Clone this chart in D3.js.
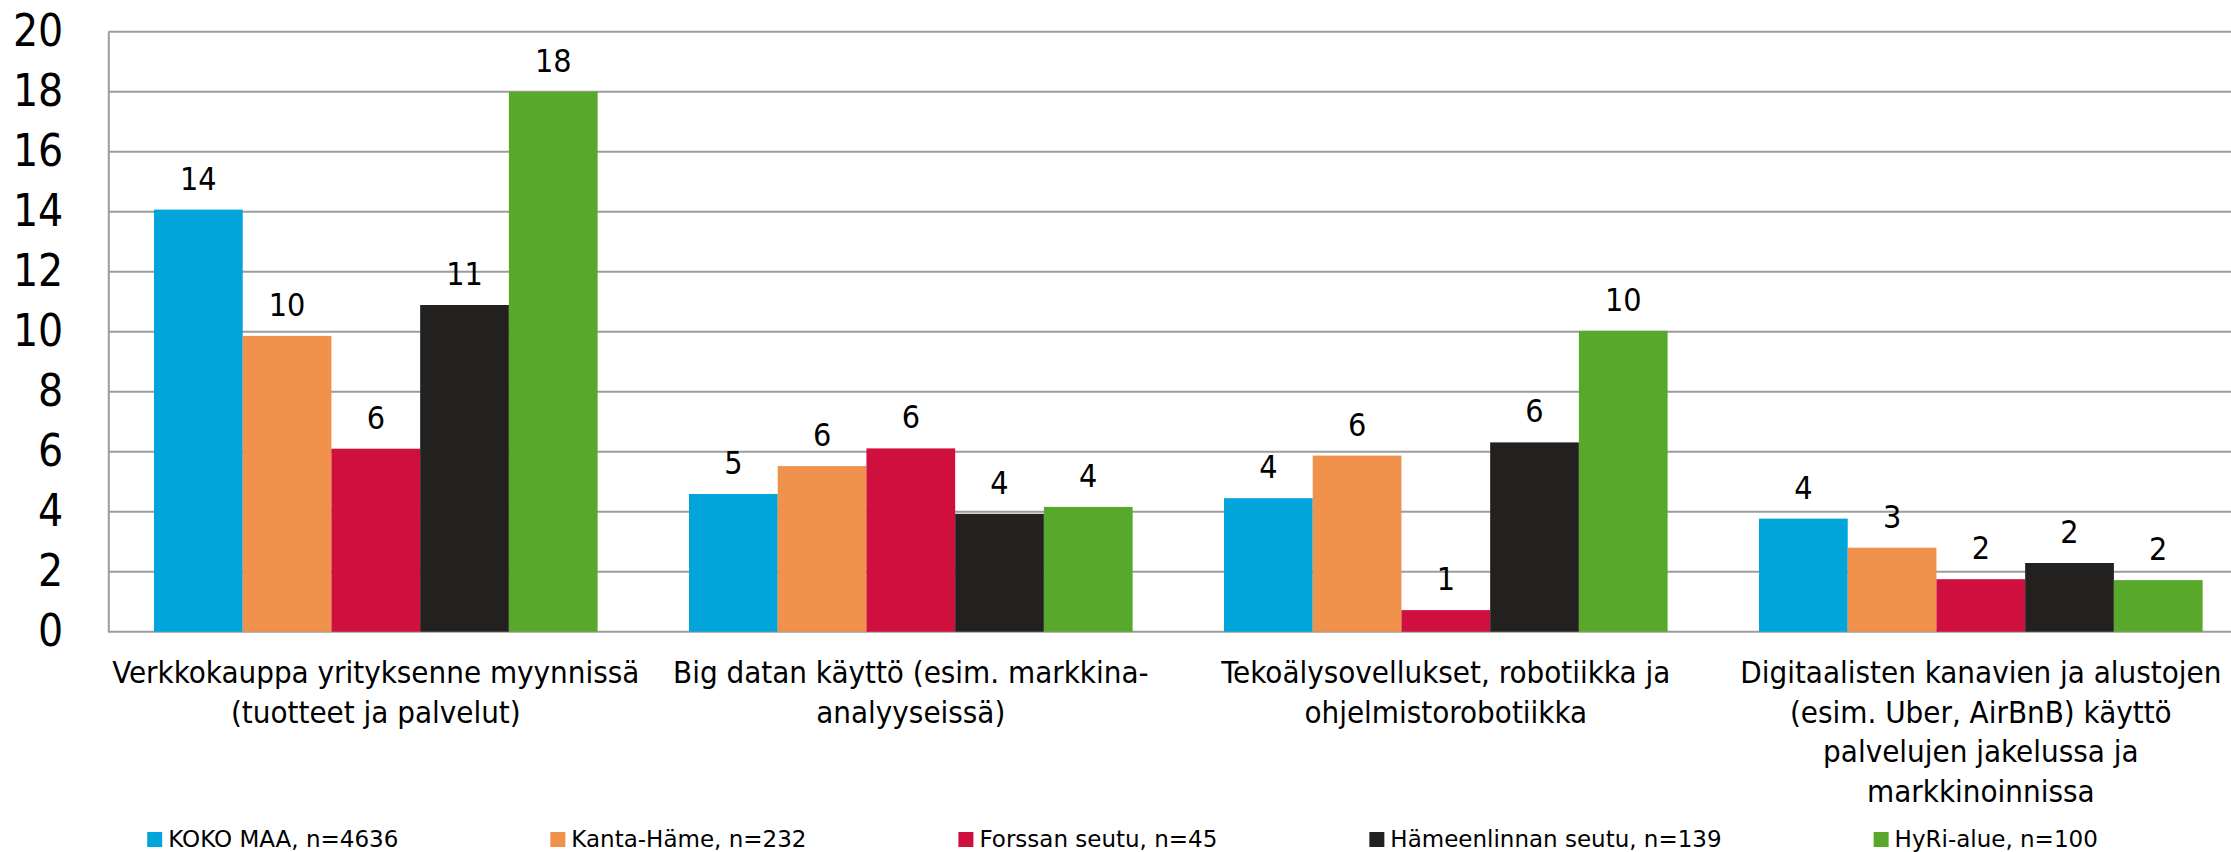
<!DOCTYPE html>
<html>
<head>
<meta charset="utf-8">
<script src="https://cdn.jsdelivr.net/npm/d3@7"></script>
<style>
  html, body { margin: 0; padding: 0; background: #fff; }
  svg { display: block; font-family: 'DejaVu Sans Condensed', 'DejaVu Sans', sans-serif; }
</style>
</head>
<body>
<svg id="chart"></svg>
<script>
const categories = [
  ['Verkkokauppa yrityksenne myynnissä', '(tuotteet ja palvelut)'],
  ['Big datan käyttö (esim. markkina-', 'analyyseissä)'],
  ['Tekoälysovellukset, robotiikka ja', 'ohjelmistorobotiikka'],
  ['Digitaalisten kanavien ja alustojen', '(esim. Uber, AirBnB) käyttö', 'palvelujen jakelussa ja', 'markkinoinnissa']
]
const series = ['KOKO MAA, n=4636', 'Kanta-Häme, n=232', 'Forssan seutu, n=45', 'Hämeenlinnan seutu, n=139', 'HyRi-alue, n=100']
const colors = ['#02a5da', '#f0914c', '#cf0f3d', '#22211f', '#58a82c']

const kokoMaa = [14.07, 4.59, 4.45, 3.77]
const kantaHame = [9.86, 5.52, 5.87, 2.80]
const forssa = [6.10, 6.11, 0.72, 1.75]
const hameenlinna = [10.89, 3.93, 6.31, 2.29]
const hyri = [18.0, 4.16, 10.03, 1.72]
const values = [kokoMaa, kantaHame, forssa, hameenlinna, hyri]

const yTicks = [0, 2, 4, 6, 8, 10, 12, 14, 16, 18, 20]

let w = 2231, h = 852
let mLeft = 108.3, mTop = 31.7, plotH = 600, band = 535

let svg = d3.select('#chart').attr('width', w).attr('height', h)

let x0 = d3.scaleBand()
  .domain(d3.range(categories.length))
  .range([mLeft, mLeft + band * categories.length])
  .padding(0)

// excel gap width 103%
let gap = band * 1.03 / 6.03
let x1 = d3.scaleBand()
  .domain(d3.range(series.length))
  .range([gap / 2, band - gap / 2])
  .padding(0)

let y = d3.scaleLinear().domain([0, 20]).range([mTop + plotH, mTop])

// gridlines
svg.append('g')
  .selectAll('line')
  .data(yTicks)
  .enter().append('line')
  .attr('x1', mLeft).attr('x2', w)
  .attr('y1', d => y(d)).attr('y2', d => y(d))
  .attr('stroke', '#9c9c9c')
  .attr('stroke-width', 2)

// y axis
let yAxis = svg.append('g')
  .attr('transform', `translate(${mLeft},0)`)
  .call(d3.axisLeft(y).tickValues(yTicks).tickSize(0).tickPadding(45))
yAxis.select('.domain').attr('stroke', '#9c9c9c').attr('stroke-width', 2)
yAxis.selectAll('text')
  .attr('font-size', 44)
  .attr('font-family', "'DejaVu Sans Condensed', sans-serif")
  .attr('fill', '#000')

// bars
let rows = []
values.forEach((vals, s) => vals.forEach((v, c) => rows.push({ s, c, v })))

svg.append('g')
  .selectAll('rect')
  .data(rows)
  .enter().append('rect')
  .attr('x', d => x0(d.c) + x1(d.s))
  .attr('y', d => y(d.v))
  .attr('width', x1.bandwidth())
  .attr('height', d => y(0) - y(d.v))
  .attr('fill', d => colors[d.s])

// value labels
svg.append('g')
  .selectAll('text')
  .data(rows)
  .enter().append('text')
  .attr('x', d => x0(d.c) + x1(d.s) + x1.bandwidth() / 2)
  .attr('y', d => y(d.v) - 20)
  .attr('text-anchor', 'middle')
  .attr('font-size', 32)
  .attr('fill', '#000')
  .text(d => Math.round(d.v))

// category labels
let cat = svg.append('g')
  .selectAll('text')
  .data(categories)
  .enter().append('text')
  .attr('text-anchor', 'middle')
  .attr('font-size', 31)
  .attr('fill', '#000')
  .attr('transform', (d, i) => `translate(${x0(i) + band / 2},683)`)

cat.selectAll('tspan')
  .data(d => d)
  .enter().append('tspan')
  .attr('x', 0)
  .attr('y', (d, i) => i * 39.5)
  .text(d => d)

// legend
let leg = svg.append('g')
let items = leg.selectAll('g')
  .data(series)
  .enter().append('g')

items.append('rect')
  .attr('width', 15).attr('height', 15)
  .attr('y', 832)
  .attr('fill', (d, i) => colors[i])

items.append('text')
  .attr('x', 21)
  .attr('y', 847)
  .attr('font-size', 23)
  .attr('font-family', "'DejaVu Sans', sans-serif")
  .attr('fill', '#000')
  .text(d => d)

let pos = 0
items.each(function () {
  let tw = d3.select(this).select('text').node().getComputedTextLength()
  d3.select(this).attr('transform', `translate(${pos},0)`)
  pos += 21 + tw + 152
})
let total = pos - 152
leg.attr('transform', `translate(${(w - total) / 2 + 7},0)`)
</script>
</body>
</html>
